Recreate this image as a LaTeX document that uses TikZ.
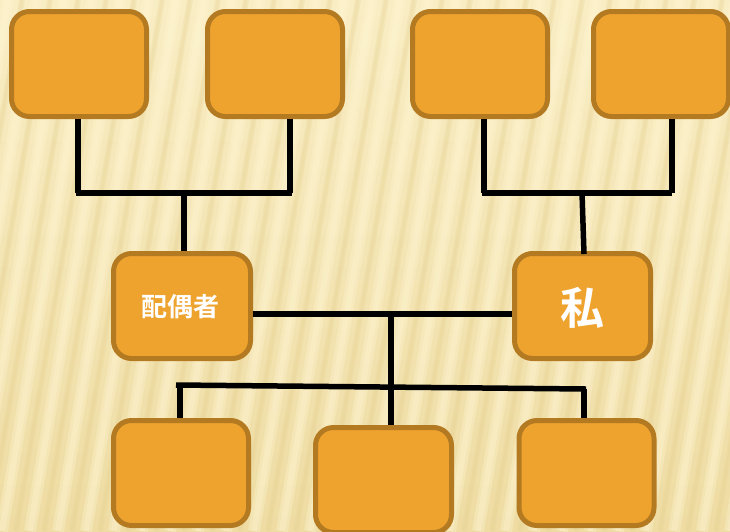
\documentclass[tikz,border=0pt]{standalone}
\usepackage{fontspec}
\newfontfamily\cjk{Noto Sans CJK JP}[BoldFont={* Bold}]
\begin{document}
\begin{tikzpicture}[x=1pt,y=-1pt,
  box/.style={draw=boxline,fill=boxfill,line width=5pt,rounded corners=18pt,inner sep=0pt},
  conn/.style={line width=5.5pt,draw=black},
  lbl/.style={text=white,font=\cjk\bfseries}]
\definecolor{boxfill}{HTML}{EEA32F}
\definecolor{boxline}{HTML}{B47A22}
\definecolor{bgtop}{HTML}{F9EDC4}
\definecolor{bgbot}{HTML}{EEDCA3}
\definecolor{stripeL}{HTML}{FFF5D2}
\definecolor{stripeD}{HTML}{E6D190}
\useasboundingbox (0,0) rectangle (730,531);
\shade[top color=bgtop,bottom color=bgbot] (0,0) rectangle (730,531);
\begin{scope}
\clip (0,0) rectangle (730,531);
\foreach \x in {-20,8,...,840}{
  \draw[line width=12pt,draw=stripeL,opacity=0.35] (\x,0) -- (\x-90,531);
  \draw[line width=6pt,draw=stripeL,opacity=0.35] (\x,0) -- (\x-90,531);
  \draw[line width=6pt,draw=stripeD,opacity=0.22] (\x+14,0) -- (\x-76,531);
  \draw[line width=3pt,draw=stripeD,opacity=0.22] (\x+14,0) -- (\x-76,531);
}
\end{scope}
% top row
\node[box,minimum width=135pt,minimum height=105pt] (g1) at (79,64) {};
\node[box,minimum width=135pt,minimum height=105pt] (g2) at (275,64) {};
\node[box,minimum width=135pt,minimum height=105pt] (g3) at (480,64) {};
\node[box,minimum width=135pt,minimum height=105pt] (g4) at (661,64) {};
% middle
\node[box,minimum width=137pt,minimum height=105pt] (sp) at (182,306) {};
\node[lbl,font=\cjk\bfseries\fontsize{26}{26}\selectfont] at (180,307) {配偶者};
\node[box,minimum width=136pt,minimum height=105pt] (me) at (582.5,306) {};
\node[lbl,font=\cjk\bfseries\fontsize{44}{44}\selectfont] at (582.5,308) {私};
% bottom
\node[box,minimum width=135pt,minimum height=105pt] (c1) at (181,473) {};
\node[box,minimum width=136pt,minimum height=105pt] (c2) at (383.5,480) {};
\node[box,minimum width=135pt,minimum height=105pt] (c3) at (586.5,473) {};
% coordinates
\coordinate (a1) at (78,193);
\coordinate (a2) at (290,193);
\coordinate (am) at (184,193);
\coordinate (b1) at (484,193);
\coordinate (b2) at (670,193);
\coordinate (bm) at (582,193);
\coordinate (mm) at (391,314);
\coordinate (h1) at (176,385);
\coordinate (h2) at (586,389);
\coordinate (d1) at (180,386);
\coordinate (d3) at (584,389);
% connectors
\draw[conn] (g1.south -| a1) -- (a1);
\draw[conn] (g2.south -| a2) -- (a2);
\draw[conn] (76,193) -- (292,193);
\draw[conn] (am) -- (sp.north -| am);
\draw[conn] (g3.south -| b1) -- (b1);
\draw[conn] (g4.south -| 672,0) -- (672,193);
\draw[conn] (482,193) -- (672,193);
\draw[conn] (bm) -- (584,254);
\draw[conn] (sp.east |- mm) -- (me.west |- mm);
\draw[conn] (mm) -- (c2.north -| mm);
\draw[conn] (h1) -- (h2);
\draw[conn] (d1) -- (c1.north -| d1);
\draw[conn] (d3) -- (c3.north -| d3);
\end{tikzpicture}
\end{document}
